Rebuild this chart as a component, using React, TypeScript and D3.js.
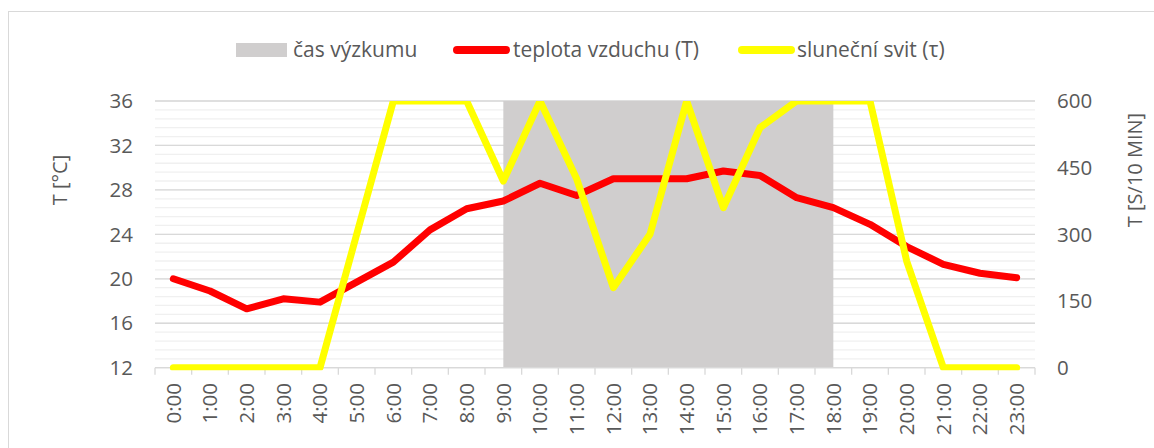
import React from "react";
import * as d3 from "d3";

const categories = ["0:00","1:00","2:00","3:00","4:00","5:00","6:00","7:00","8:00","9:00","10:00","11:00","12:00","13:00","14:00","15:00","16:00","17:00","18:00","19:00","20:00","21:00","22:00","23:00"];
const temperature = [20.0,18.9,17.3,18.2,17.9,19.7,21.5,24.4,26.3,27.0,28.6,27.5,29.0,29.0,29.0,29.7,29.3,27.3,26.4,24.9,22.9,21.3,20.5,20.1];
const sunshine = [0,0,0,0,0,300,600,600,600,420,600,425,180,300,600,360,540,600,600,600,240,0,0,0];
const researchMask = [0,0,0,0,0,0,0,0,0,1,1,1,1,1,1,1,1,1,1,0,0,0,0,0];
const leftTicks = [12,16,20,24,28,32,36];
const rightTicks = [0,150,300,450,600];
const legendLabels = ["čas výzkumu","teplota vzduchu (T)","sluneční svit (τ)"];
const leftTitle = "T [°C]";
const rightTitle = "T [S/10 MIN]";

const W = 1154, H = 448;
const PL = 155, PR = 1035, PT = 101, PB = 367.7;
const FONT = "'Open Sans', sans-serif";
const TXT = "#595959";

export default function App() {
  const x = d3.scaleBand<string>().domain(categories).range([PL, PR]).padding(0);
  const bw = x.bandwidth();
  const cx = (c: string) => (x(c) as number) + bw / 2;
  const yL = d3.scaleLinear().domain([12, 36]).range([PB, PT]);
  const yR = d3.scaleLinear().domain([0, 600]).range([PB, PT]);

  const minorTicks = d3.range(12, 36.0001, 0.8);

  const area = d3.area<number>()
    .defined((d) => d === 1)
    .x((_, i) => cx(categories[i]))
    .y0(PB)
    .y1(() => yL(36));

  const tempLine = d3.line<number>().x((_, i) => cx(categories[i])).y((d) => yL(d));
  const sunLine = d3.line<number>().x((_, i) => cx(categories[i])).y((d) => yR(d));

  const boundaries = categories.map((c) => x(c) as number).concat([PR]);

  return (
    <svg width={W} height={H} style={{ position: "absolute", left: 0, top: 0, fontFamily: FONT }}>
      <defs>
        <clipPath id="plotclip">
          <rect x={PL} y={PT} width={PR - PL} height={PB - PT + 2.5} />
        </clipPath>
      </defs>
      <rect x={0} y={0} width={W} height={H} fill="#fff" />
      <rect x={8.5} y={11.5} width={W + 20} height={H + 20} fill="none" stroke="#d9d9d9" strokeWidth={1} />

      {/* minor gridlines */}
      {minorTicks.map((t, i) => (
        <line key={"mi" + i} x1={PL} x2={PR} y1={yL(t)} y2={yL(t)} stroke="#f0f0f0" strokeWidth={1.3} />
      ))}
      {/* major gridlines */}
      {leftTicks.map((t) => (
        <line key={"ma" + t} x1={PL} x2={PR} y1={yL(t)} y2={yL(t)} stroke="#d9d9d9" strokeWidth={1.3} />
      ))}

      {/* research time area */}
      <path d={area(researchMask) || ""} fill="#d0cece" />

      {/* x axis */}
      <line x1={PL} x2={PR} y1={PB} y2={PB} stroke="#d9d9d9" strokeWidth={1.3} />
      {boundaries.map((b, i) => (
        <line key={"tk" + i} x1={b} x2={b} y1={PB} y2={PB + 7} stroke="#d9d9d9" strokeWidth={1.3} />
      ))}

      {/* lines */}
      <g clipPath="url(#plotclip)">
        <path d={tempLine(temperature) || ""} fill="none" stroke="#ff0000" strokeWidth={7} strokeLinejoin="round" strokeLinecap="round" />
        <path d={sunLine(sunshine) || ""} fill="none" stroke="#ffff00" strokeWidth={7} strokeLinejoin="round" strokeLinecap="round" />
      </g>

      {/* left ticks */}
      {leftTicks.map((t) => (
        <text key={"lt" + t} x={133} y={yL(t)} dy="0.35em" textAnchor="end" fontSize={20.5} fill={TXT}>{t}</text>
      ))}
      {/* right ticks */}
      {rightTicks.map((t) => (
        <text key={"rt" + t} x={1057} y={yR(t)} dy="0.35em" textAnchor="start" fontSize={20.5} fill={TXT}>{t}</text>
      ))}
      {/* x labels */}
      {categories.map((c) => (
        <text key={"xl" + c} transform={`translate(${cx(c)},383) rotate(-90)`} dy="0.35em" textAnchor="end" fontSize={20.5} fill={TXT}>{c}</text>
      ))}

      {/* axis titles */}
      <text transform="translate(60,180) rotate(-90)" dy="0.35em" textAnchor="middle" fontSize={20} fill={TXT}>{leftTitle}</text>
      <text transform="translate(1135,170) rotate(-90)" dy="0.35em" textAnchor="middle" fontSize={20} fill={TXT}>{rightTitle}</text>

      {/* legend */}
      <rect x={236} y={43} width={51} height={14} fill="#d0cece" />
      <text x={293} y={50} dy="0.35em" fontSize={21} fill={TXT}>{legendLabels[0]}</text>
      <line x1={457} x2={506} y1={50} y2={50} stroke="#ff0000" strokeWidth={8} strokeLinecap="round" />
      <text x={513} y={50} dy="0.35em" fontSize={21} fill={TXT}>{legendLabels[1]}</text>
      <line x1={742} x2={791} y1={50} y2={50} stroke="#ffff00" strokeWidth={8} strokeLinecap="round" />
      <text x={797} y={50} dy="0.35em" fontSize={21} fill={TXT}>{legendLabels[2]}</text>
    </svg>
  );
}
